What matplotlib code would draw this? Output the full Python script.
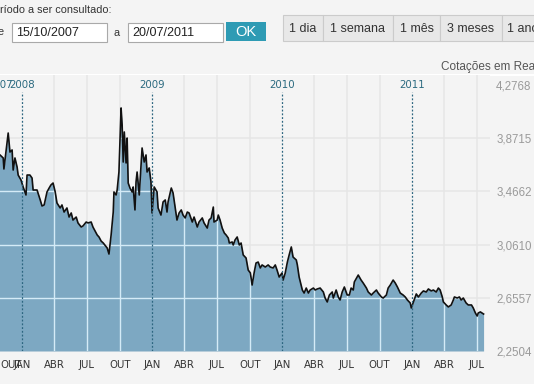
import pandas as pd
import matplotlib.pyplot as plt
from matplotlib.patches import Rectangle

# Série: dias desde a data inicial e cotação (R$)
inicio = pd.Timestamp('2007-10-15')
dias = [0, 16, 25, 27, 39, 44, 50, 53, 58, 64,
        67, 75, 81, 89, 92, 100, 106, 109, 120, 129,
        134, 140, 148, 154, 159, 165, 171, 176, 185, 190,
        196, 204, 210, 216, 221, 230, 235, 244, 249, 258,
        263, 272, 277, 289, 294, 300, 306, 317, 322, 328,
        334, 336, 342, 345, 350, 356, 359, 362, 365, 370,
        373, 376, 381, 387, 390, 395, 398, 401, 407, 412,
        415, 421, 426, 429, 435, 440, 443, 449, 457, 460,
        468, 474, 480, 485, 488, 497, 502, 508, 513, 519,
        525, 530, 536, 542, 547, 556, 561, 570, 575, 584,
        589, 598, 603, 609, 615, 617, 626, 629, 634, 640,
        646, 651, 657, 660, 668, 671, 676, 682, 688, 693,
        699, 707, 713, 719, 724, 730, 735, 741, 747, 752,
        761, 769, 775, 783, 789, 794, 800, 808, 811, 817,
        823, 828, 834, 839, 848, 851, 856, 865, 870, 876,
        882, 887, 896, 901, 907, 915, 924, 929, 935, 941,
        949, 952, 960, 966, 971, 977, 983, 991, 997, 1002,
        1008, 1011, 1019, 1022, 1030, 1036, 1045, 1050, 1059, 1064,
        1073, 1078, 1087, 1092, 1101, 1106, 1112, 1120, 1126, 1132,
        1140, 1148, 1154, 1160, 1168, 1171, 1177, 1185, 1191, 1199,
        1205, 1213, 1219, 1227, 1233, 1241, 1247, 1252, 1258, 1261,
        1269, 1275, 1283, 1289, 1292, 1300, 1306, 1311, 1317, 1325,
        1331, 1340, 1345, 1351, 1356, 1359, 1365, 1374]
cotacao = [3.766, 3.744, 3.721, 3.637, 3.911, 3.766, 3.782, 3.629, 3.721, 3.652,
           3.591, 3.553, 3.500, 3.439, 3.591, 3.591, 3.568, 3.477, 3.477, 3.401,
           3.355, 3.363, 3.462, 3.492, 3.515, 3.530, 3.462, 3.378, 3.340, 3.363,
           3.309, 3.340, 3.271, 3.302, 3.248, 3.271, 3.226, 3.195, 3.203, 3.233,
           3.226, 3.233, 3.195, 3.134, 3.119, 3.088, 3.073, 3.035, 2.989, 3.134,
           3.309, 3.462, 3.439, 3.477, 3.614, 4.102, 3.972, 3.690, 3.919, 3.683,
           3.873, 3.530, 3.492, 3.462, 3.500, 3.325, 3.538, 3.614, 3.439, 3.667,
           3.797, 3.690, 3.744, 3.614, 3.645, 3.538, 3.302, 3.500, 3.462, 3.340,
           3.286, 3.386, 3.401, 3.309, 3.386, 3.492, 3.454, 3.340, 3.248, 3.302,
           3.325, 3.286, 3.264, 3.309, 3.302, 3.233, 3.271, 3.195, 3.233, 3.264,
           3.226, 3.187, 3.248, 3.264, 3.347, 3.233, 3.248, 3.286, 3.248, 3.187,
           3.149, 3.134, 3.111, 3.073, 3.081, 3.058, 3.096, 3.119, 3.058, 3.073,
           2.982, 2.959, 2.867, 2.845, 2.753, 2.852, 2.921, 2.928, 2.883, 2.906,
           2.890, 2.906, 2.890, 2.883, 2.906, 2.867, 2.814, 2.845, 2.791, 2.845,
           2.928, 2.982, 3.043, 2.966, 2.944, 2.906, 2.814, 2.715, 2.692, 2.730,
           2.692, 2.715, 2.730, 2.715, 2.723, 2.730, 2.700, 2.654, 2.624, 2.677,
           2.700, 2.654, 2.715, 2.662, 2.639, 2.700, 2.738, 2.677, 2.677, 2.730,
           2.715, 2.776, 2.814, 2.829, 2.791, 2.768, 2.730, 2.700, 2.677, 2.692,
           2.715, 2.692, 2.662, 2.654, 2.677, 2.730, 2.753, 2.791, 2.768, 2.738,
           2.692, 2.677, 2.662, 2.639, 2.616, 2.578, 2.624, 2.685, 2.662, 2.692,
           2.708, 2.700, 2.723, 2.708, 2.715, 2.700, 2.730, 2.715, 2.662, 2.624,
           2.601, 2.586, 2.601, 2.639, 2.662, 2.654, 2.662, 2.639, 2.654, 2.616,
           2.601, 2.601, 2.578, 2.540, 2.517, 2.540, 2.548, 2.532]

anos = ['2008-01-01', '2009-01-01', '2010-01-01', '2011-01-01']
ano_labels = ['2008', '2009', '2010', '2011']
y_ticks = [4.2768, 3.8715, 3.4662, 3.0610, 2.6557, 2.2504]
nomes_meses = {1: 'JAN', 4: 'ABR', 7: 'JUL', 10: 'OUT'}
periodo = ['15/10/2007', '20/07/2011']
botoes = ['1 dia', '1 semana', '1 mês', '3 meses', '1 ano']

datas = inicio + pd.to_timedelta(dias, unit='D')
trimestres = pd.date_range('2008-01-01', '2011-07-01', freq='QS')

BG = '#f4f4f4'
FILL = '#7da8c2'
SANS = 'Liberation Sans'

fig = plt.figure(figsize=(5.34, 3.84), dpi=100)
fig.patch.set_facecolor(BG)

# camada do cabeçalho, em pixels
ov = fig.add_axes([0, 0, 1, 1], zorder=-1)
ov.set_xlim(0, 534)
ov.set_ylim(384, 0)
ov.axis('off')

ov.text(0, 10, 'ríodo a ser consultado:', fontsize=7.8, color='#333333',
        va='center', family=SANS)
ov.text(-2, 32, 'e', fontsize=7.8, color='#333333', va='center', family=SANS)
ov.text(113, 33, 'a', fontsize=7.8, color='#333333', va='center', family=SANS)
for x0, txt in zip([11.5, 127.5], periodo):
    ov.add_patch(Rectangle((x0, 22.5), 95, 19.5, fc='white', ec='#a9a9a9', lw=0.8))
    ov.text(x0 + 4.5, 32.5, txt, fontsize=9, color='#222222', va='center', family=SANS)
ov.add_patch(Rectangle((226, 22), 40, 19, fc='#2e9bb4', ec='none'))
ov.text(246, 31.5, 'OK', fontsize=10.5, color='white', ha='center', va='center', family=SANS)

bordas = [283, 323, 393, 440, 502, 580]
for i, txt in enumerate(botoes):
    x0, x1 = bordas[i], bordas[i + 1]
    ov.add_patch(Rectangle((x0, 15), x1 - x0, 26, fc='#e8e8e8', ec='#cbcbcb', lw=0.8))
    if i < len(botoes) - 1:
        ov.text((x0 + x1) / 2, 29, txt, fontsize=9, color='#333333',
                ha='center', va='center', family=SANS)
    else:
        ov.text(x0 + 5, 29, txt, fontsize=9, color='#333333', va='center', family=SANS)

ov.text(441, 67, 'Cotações em Reais', fontsize=8.5, color='#555555',
        va='center', family=SANS)
ov.plot([0, 534], [74.5, 74.5], color='white', lw=1.5)

# gráfico
ax = fig.add_axes([0, 33 / 384, 490 / 534, 276 / 384])
ax.set_facecolor(BG)
for s in ax.spines.values():
    s.set_visible(False)
ax.set_xlim(pd.Timestamp('2007-10-31'), pd.Timestamp('2011-08-07'))
ax.set_ylim(y_ticks[-1], 4.353)

grade_v = [d for d in trimestres if d.month != 1]
grade_h = y_ticks[1:-1]

# grade sob a área
for d in grade_v:
    ax.axvline(d, color='#e6e6e6', lw=1.1, zorder=0.5)
for v in grade_h:
    ax.axhline(v, color='#e6e6e6', lw=1.1, zorder=0.5)

area = ax.fill_between(datas, cotacao, y_ticks[-1], color=FILL, lw=0, zorder=1)
clip = area.get_paths()[0]

# grade clara sobre a área
for d in grade_v:
    ln = ax.axvline(d, color='#d4ebf7', lw=1.0, zorder=1.5)
    ln.set_clip_path(clip, ax.transData)
for v in grade_h:
    ln = ax.axhline(v, color='#d4ebf7', lw=1.0, zorder=1.5)
    ln.set_clip_path(clip, ax.transData)

ax.plot(datas, cotacao, color='#111111', lw=1.2, zorder=3)

# linhas tracejadas dos anos
ax.vlines(pd.to_datetime(anos), y_ticks[-1], 4.222, colors='#2d6680',
          linestyles=(0, (1.5, 1.5)), lw=0.9, zorder=4)

ax.text(ax.get_xlim()[0], y_ticks[0], '2007', fontsize=7.4, color='#2b6a80',
        ha='center', va='center', zorder=5)
for d, lab in zip(pd.to_datetime(anos), ano_labels):
    ax.text(d, y_ticks[0], lab, fontsize=7.4, color='#2b6a80',
            ha='center', va='center', zorder=5)

# meses
xt = ax.get_xaxis_transform()
ax.text(ax.get_xlim()[0], -14 / 276, 'OUT', transform=xt, fontsize=7.3,
        color='#333333', ha='left', va='center')
for d in trimestres:
    ax.text(d, -14 / 276, nomes_meses[d.month], transform=xt, fontsize=7.3,
            color='#333333', ha='center', va='center')
ax.set_xticks([])

# eixo y à direita
ax.yaxis.tick_right()
ax.set_yticks(y_ticks)
ax.set_yticklabels([f'{v:.4f}'.replace('.', ',') for v in y_ticks],
                   fontsize=8.3, color='#9a9a9a', family=SANS)
ax.tick_params(axis='y', length=0, pad=4.5)

plt.savefig('out.png', dpi=100, facecolor=BG)
